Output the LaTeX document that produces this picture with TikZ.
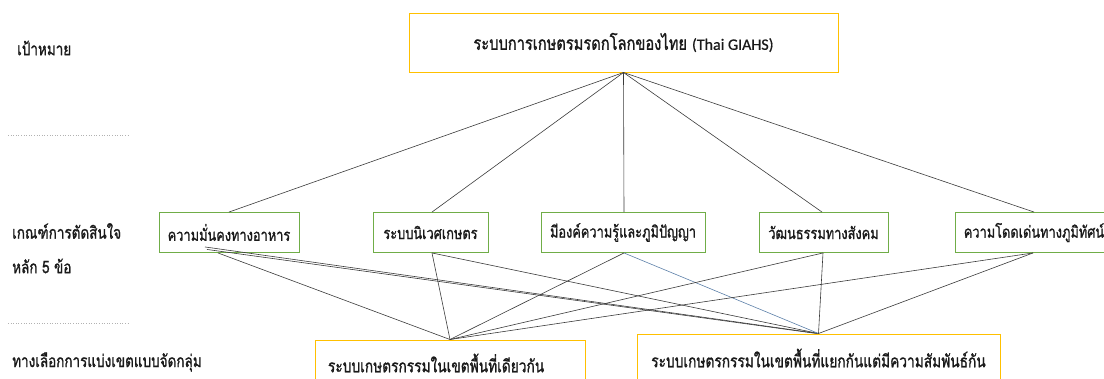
\documentclass[tikz,border=0pt]{standalone}
\usepackage{fontspec}
\usetikzlibrary{calc}
\newfontfamily\thaifont[Script=Thai, FakeStretch=0.78, FakeBold=1.2]{Loma}
\newfontfamily\latfont[FakeBold=0.6]{Carlito}
\definecolor{boxgreen}{HTML}{70AD47}
\definecolor{boxgold}{HTML}{FFC000}
\definecolor{linegray}{HTML}{3A3A3A}
\definecolor{lineblue}{HTML}{5B7FA8}
\definecolor{txt}{HTML}{1A1A1A}
\tikzset{
  goalbox/.style={draw=boxgold, line width=1pt, minimum width=429pt, minimum height=59pt, inner sep=0pt, text=txt, font=\thaifont\fontsize{18.8}{21}\selectfont},
  critbox/.style={draw=boxgreen, line width=0.9pt, minimum height=40pt, inner sep=0pt, text=txt, font=\thaifont\fontsize{16.4}{19}\selectfont},
  optbox/.style={draw=boxgold, line width=1pt, inner sep=0pt, text=txt, font=\thaifont\fontsize{17.6}{20}\selectfont},
  sidelabel/.style={anchor=west, inner sep=0pt, text=txt, font=\thaifont\fontsize{17.3}{20}\selectfont},
  link/.style={draw=linegray, line width=0.6pt},
  bluelink/.style={draw=lineblue, line width=0.6pt},
  sep/.style={draw=gray!60, dotted, line width=0.6pt}
}
\begin{document}
\begin{tikzpicture}[x=1pt,y=-1pt]
\useasboundingbox (0,0) rectangle (1104,378);
% separators
\draw[sep] (8,135) -- (130,135);
\draw[sep] (8,323) -- (130,323);
% side labels
\node[sidelabel] (l1) at (17,48) {เป้าหมาย};
\node[sidelabel] (l2) at (12,231) {เกณฑ์การตัดสินใจ};
\node[sidelabel] (l3) at (12,266) {หลัก 5 ข้อ};
\node[sidelabel] (l4) at (12,362) {ทางเลือกการแบ่งเขตแบบจัดกลุ่ม};
% goal
\node[goalbox] (goal) at (623.5,42.5) {ระบบการเกษตรมรดกโลกของไทย {\latfont\fontsize{16}{19}\selectfont (Thai GIAHS)}};
% criteria
\node[critbox, minimum width=140pt] (c1) at (229,232.5) {ความมั่นคงทางอาหาร};
\node[critbox, minimum width=115pt] (c2) at (430.5,232.5) {ระบบนิเวศเกษตร};
\node[critbox, minimum width=164pt] (c3) at (623,232.5) {มีองค์ความรู้และภูมิปัญญา};
\node[critbox, minimum width=129pt] (c4) at (823.5,232.5) {วัฒนธรรมทางสังคม};
\node[critbox, minimum width=158pt] (c5) at (1034,232.5) {ความโดดเด่นทางภูมิทัศน์};
% options
\node[optbox, minimum width=270pt, minimum height=46pt, text width=244pt, align=left] (oa) at (450,363) {ระบบเกษตรกรรมในเขตพื้นที่เดียวกัน};
\node[optbox, minimum width=363pt, minimum height=48pt] (ob) at (818.5,358) {ระบบเกษตรกรรมในเขตพื้นที่แยกกันแต่มีความสัมพันธ์กัน};
% goal to criteria
\draw[link] (goal.south) -- (c1.north);
\draw[link] (goal.south) -- ($(c2.north)+(1.5,0)$);
\draw[link] (goal.south) -- ($(c3.north)+(1,0)$);
\draw[link] (goal.south) -- ($(c4.north)+(-1.5,0)$);
\draw[link] (goal.south) -- (c5.north);
% criteria to options
\draw[link] ($(c1.south)+(-24,-6)$) -- (ob.north);
\draw[link] ($(c1.south)+(-22,-3.5)$) -- ($(ob.north)+(-2,0)$);
\draw[link] ($(c1.south)+(-11,0)$) -- (oa.north);
\draw[link] ($(c2.south)+(1.5,0)$) -- (oa.north);
\draw[link] ($(c2.south)+(1.5,0)$) -- (ob.north);
\draw[link] ($(c3.south)+(1,0)$) -- (oa.north);
\draw[bluelink] ($(c3.south)+(1,0)$) -- (ob.north);
\draw[link] ($(c4.south)+(-0.5,0)$) -- (oa.north);
\draw[link] ($(c4.south)+(-0.5,0)$) -- (ob.north);
\draw[link] ($(c5.south)+(-1,0)$) -- (oa.north);
\draw[link] ($(c5.south)+(-1,0)$) -- (ob.north);
\end{tikzpicture}
\end{document}
